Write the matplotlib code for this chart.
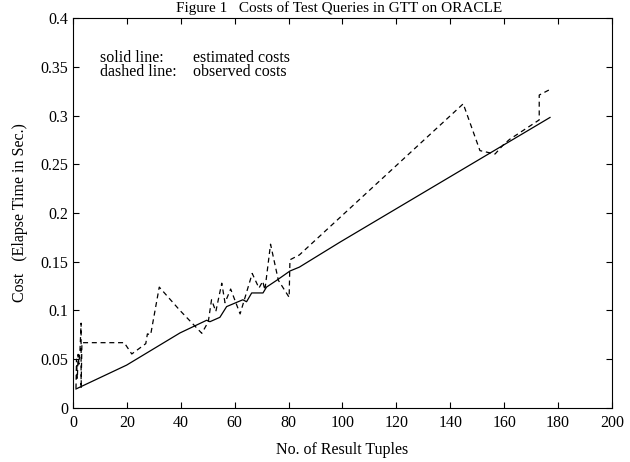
import numpy as np
import matplotlib
matplotlib.use("Agg")
import matplotlib.pyplot as plt

# estimated costs (solid line)
est_x = [1.1, 19.9, 39.7, 49.6, 50.8, 54.5, 57.0, 63.0, 64.4, 66.3, 70.5,
         71.8, 75.6, 80.5, 84.0, 99.0, 177.0]
est_y = [0.0195, 0.044, 0.077, 0.090, 0.0885, 0.093, 0.104, 0.111, 0.109,
         0.118, 0.118, 0.124, 0.131, 0.1405, 0.1445, 0.170, 0.298]

# observed costs (dashed line)
obs_x = [1.1, 1.3, 1.6, 1.9, 2.2, 2.6, 3.0, 3.0, 3.3, 19.0, 21.8, 27.0, 27.6,
         28.8, 32.0, 39.7, 47.8, 50.2, 51.4, 53.0, 55.2, 56.4, 58.5, 62.0,
         66.5, 69.0, 70.4, 71.2, 73.3, 76.2, 80.2, 80.5, 84.0, 144.8, 151.0,
         156.6, 159.7, 162.0, 173.0, 173.0, 177.2]
obs_y = [0.02, 0.05, 0.03, 0.055, 0.045, 0.06, 0.087, 0.02, 0.067, 0.067,
         0.0554, 0.066, 0.076, 0.075, 0.124, 0.100, 0.0766, 0.0885, 0.111,
         0.099, 0.128, 0.108, 0.122, 0.0965, 0.138, 0.123, 0.130, 0.121,
         0.168, 0.131, 0.1135, 0.152, 0.157, 0.312, 0.264, 0.2605, 0.270,
         0.2755, 0.2955, 0.321, 0.327]

x_ticks = np.arange(0, 201, 20)
y_ticks = [0, 0.05, 0.1, 0.15, 0.2, 0.25, 0.3, 0.35, 0.4]
y_labels = ["0", "0.05", "0.1", "0.15", "0.2", "0.25", "0.3", "0.35", "0.4"]

plt.rcParams["font.family"] = ["Liberation Serif", "DejaVu Serif"]
fs = 11.5

fig = plt.figure(figsize=(6.3, 4.62), dpi=100)
ax = fig.add_axes([0.1159, 0.1169, 0.8555, 0.8441])

ax.plot(est_x, est_y, color="black", lw=0.9)
ax.plot(obs_x, obs_y, color="black", lw=0.9, linestyle=(0, (4, 3)))

ax.set_xlim(0, 200)
ax.set_ylim(0, 0.4)
ax.set_xticks(x_ticks)
ax.set_yticks(y_ticks)
ax.set_yticklabels(y_labels)
ax.tick_params(direction="in", length=4, width=0.8, top=True, right=True,
               labelsize=fs)
ax.tick_params(axis="x", pad=5)
ax.tick_params(axis="y", pad=3.5)
for s in ax.spines.values():
    s.set_linewidth(0.8)

ax.set_xlabel("No. of Result Tuples", fontsize=fs, labelpad=8)
ax.set_ylabel("Cost   (Elapse Time in Sec.)", fontsize=fs, labelpad=9)

# legend-like note, two columns
ax.text(0.05, 0.88, "solid line:\ndashed line:", transform=ax.transAxes,
        fontsize=fs, va="center", linespacing=0.8)
ax.text(0.222, 0.88, "estimated costs\nobserved costs", transform=ax.transAxes,
        fontsize=fs, va="center", linespacing=0.8)

fig.text(0.538, 1 - 12 / 462, "Figure 1   Costs of Test Queries in GTT on ORACLE",
         ha="center", va="baseline", fontsize=11)

fig.savefig("out.png", dpi=100)
